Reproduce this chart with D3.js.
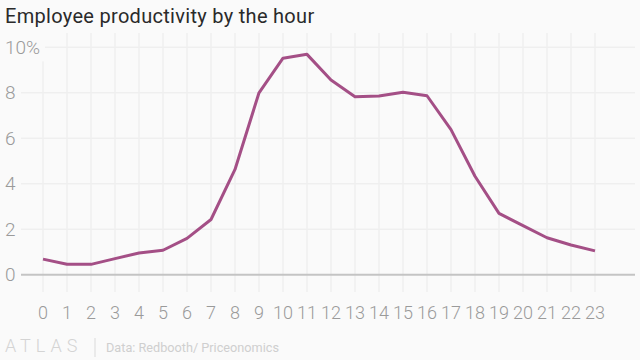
<!DOCTYPE html>
<html><head><meta charset="utf-8">
<script src="https://cdn.jsdelivr.net/npm/d3@7"></script>
<style>
html,body{margin:0;padding:0;background:#fafafa;}
svg{display:block;}
</style></head>
<body>
<svg id="c" width="640" height="360"></svg>
<script>
const hours = [0,1,2,3,4,5,6,7,8,9,10,11,12,13,14,15,16,17,18,19,20,21,22,23];
const productivity = [0.69,0.46,0.46,0.71,0.96,1.08,1.6,2.43,4.63,8.0,9.52,9.69,8.56,7.83,7.86,8.02,7.87,6.38,4.33,2.7,2.16,1.63,1.31,1.05];
const yTicks = [0,2,4,6,8,10];
const title = "Employee productivity by the hour";
const source = "Data: Redbooth/ Priceonomics";

const svg = d3.select("#c");
const bg = "#fafafa";
svg.append("rect").attr("width",640).attr("height",360).attr("fill",bg);

const x = d3.scaleLinear().domain([0,23]).range([43,595]);
const y = d3.scaleLinear().domain([0,10]).range([274.8,47.3]);
const gridTop = 33, gridBottom = 292, gridLeft = 21, gridRight = 635;

// vertical gridlines
svg.append("g").selectAll("line").data(hours).join("line")
  .attr("x1",d=>x(d)).attr("x2",d=>x(d))
  .attr("y1",gridTop).attr("y2",gridBottom)
  .attr("stroke","#efefef").attr("stroke-width",1.5);

// horizontal gridlines
svg.append("g").selectAll("line").data(yTicks.filter(d=>d>0)).join("line")
  .attr("x1",gridLeft).attr("x2",gridRight)
  .attr("y1",d=>y(d)).attr("y2",d=>y(d))
  .attr("stroke","#efefef").attr("stroke-width",1.5);

// background patch behind top label
svg.append("rect").attr("x",0).attr("y",gridTop-2).attr("width",45).attr("height",y(10)+14-(gridTop-2)).attr("fill",bg);

// baseline
svg.append("line").attr("x1",gridLeft).attr("x2",gridRight)
  .attr("y1",y(0)).attr("y2",y(0)).attr("stroke","#c4c4c4").attr("stroke-width",2);

// y labels
svg.append("g").selectAll("text").data(yTicks).join("text")
  .attr("x",5).attr("y",d=>y(d)).attr("dy","0.35em")
  .attr("font-family","Roboto").attr("font-weight",300).attr("font-size",19)
  .attr("fill","#9a9a9a")
  .text(d=>d===10?"10%":d);

// x labels
svg.append("g").selectAll("text").data(hours).join("text")
  .attr("x",d=>x(d)).attr("y",319)
  .attr("text-anchor","middle")
  .attr("font-family","Roboto").attr("font-weight",300).attr("font-size",18)
  .attr("fill","#9a9a9a")
  .text(d=>d);

// line
const line = d3.line().x((d,i)=>x(hours[i])).y(d=>y(d));
svg.append("path").datum(productivity)
  .attr("d",line).attr("fill","none")
  .attr("stroke","#a44f86").attr("stroke-width",3)
  .attr("stroke-linejoin","round").attr("stroke-linecap","butt");

// title
svg.append("text").attr("x",5).attr("y",23)
  .attr("font-family","Roboto").attr("font-size",20).attr("letter-spacing",0.3).attr("fill","#2a2a2a")
  .text(title);

// footer
svg.append("text").attr("x",5).attr("y",352)
  .attr("font-family","Roboto").attr("font-weight",300).attr("font-size",18)
  .attr("letter-spacing",5).attr("fill","#d4d4d4")
  .text("ATLAS");
svg.append("line").attr("x1",95).attr("x2",95).attr("y1",338).attr("y2",357)
  .attr("stroke","#dadada").attr("stroke-width",1);
svg.append("text").attr("x",106).attr("y",351.5)
  .attr("font-family","Roboto").attr("font-size",12.7).attr("fill","#cfcfcf")
  .text(source);
</script>
</body></html>
